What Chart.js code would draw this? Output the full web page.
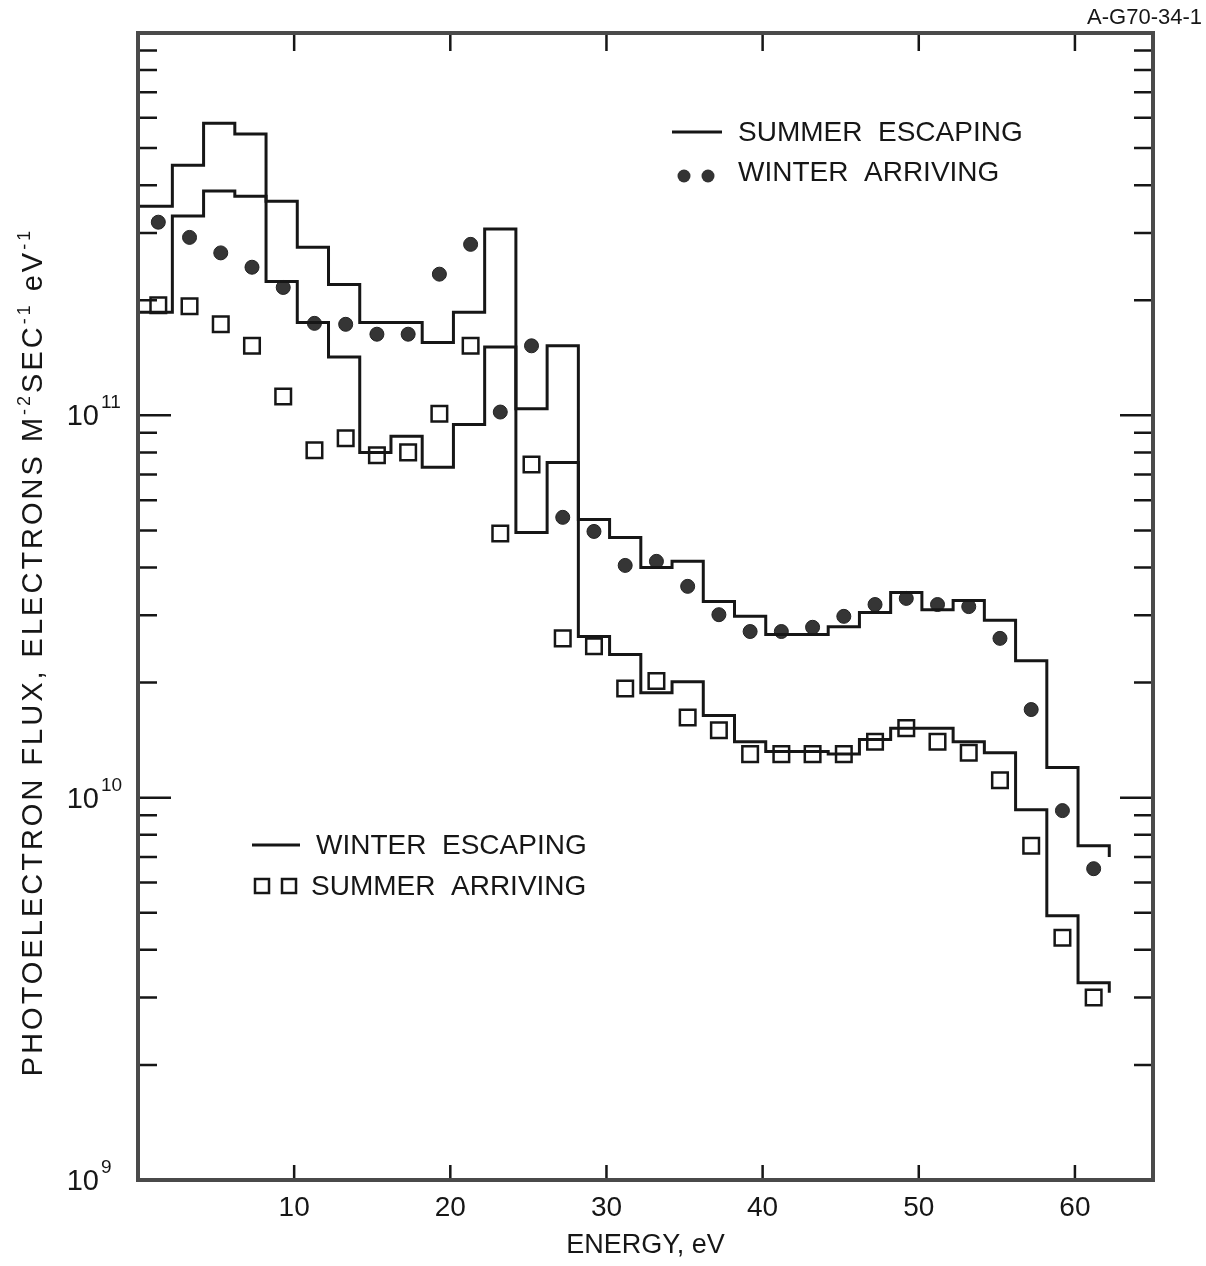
<!DOCTYPE html>
<html>
<head>
<meta charset="utf-8">
<script src="https://cdn.jsdelivr.net/npm/chart.js@4.4.1/dist/chart.umd.min.js"></script>
<style>
  body { margin: 0; background: #fff; }
  #wrap { width: 1206px; height: 1266px; position: relative; }
</style>
</head>
<body>
<div id="wrap"><canvas id="chart"></canvas></div>
<script>
// energy bin edges (eV) of the escaping spectra
const binEdges = [0, 2.2, 4.2, 6.2, 8.2, 10.2, 12.2, 14.2, 16.2, 18.2, 20.2, 22.2, 24.2, 26.2, 28.2,
  30.2, 32.2, 34.2, 36.2, 38.2, 40.2, 42.2, 44.2, 46.2, 48.2, 50.2, 52.2, 54.2, 56.2, 58.2, 60.2, 62.2];

// flux per bin, electrons m^-2 s^-1 eV^-1
const summerEscaping = [3.52e11, 4.51e11, 5.81e11, 5.44e11, 3.63e11, 2.75e11, 2.20e11, 1.75e11,
  1.75e11, 1.55e11, 1.86e11, 3.07e11, 1.04e11, 1.52e11, 5.34e10, 4.79e10, 4.00e10, 4.15e10,
  3.26e10, 2.98e10, 2.67e10, 2.67e10, 2.80e10, 3.05e10, 3.44e10, 3.10e10, 3.28e10, 2.91e10,
  2.28e10, 1.20e10, 7.49e9];
const winterEscaping = [1.86e11, 3.32e11, 3.86e11, 3.74e11, 2.24e11, 1.75e11, 1.42e11, 8.00e10,
  8.81e10, 7.31e10, 9.47e10, 1.51e11, 4.94e10, 7.53e10, 2.64e10, 2.37e10, 1.88e10, 2.01e10,
  1.64e10, 1.40e10, 1.32e10, 1.32e10, 1.30e10, 1.42e10, 1.52e10, 1.52e10, 1.40e10, 1.31e10,
  9.30e9, 4.91e9, 3.28e9];
// short drop closing each histogram at the last edge
const summerEscapingEnd = 7.0e9;
const winterEscapingEnd = 3.09e9;

// arriving fluxes at bin centres
const pointEnergies = [1.3, 3.3, 5.3, 7.3, 9.3, 11.3, 13.3, 15.3, 17.3, 19.3, 21.3, 23.2, 25.2, 27.2,
  29.2, 31.2, 33.2, 35.2, 37.2, 39.2, 41.2, 43.2, 45.2, 47.2, 49.2, 51.2, 53.2, 55.2, 57.2, 59.2, 61.2];
const winterArriving = [3.20e11, 2.92e11, 2.66e11, 2.44e11, 2.16e11, 1.74e11, 1.73e11, 1.63e11,
  1.63e11, 2.34e11, 2.80e11, 1.02e11, 1.52e11, 5.41e10, 4.97e10, 4.05e10, 4.15e10, 3.57e10,
  3.01e10, 2.72e10, 2.72e10, 2.79e10, 2.98e10, 3.20e10, 3.32e10, 3.20e10, 3.16e10, 2.61e10,
  1.70e10, 9.25e9, 6.52e9];
const summerArriving = [1.94e11, 1.93e11, 1.73e11, 1.52e11, 1.12e11, 8.10e10, 8.71e10, 7.86e10,
  8.00e10, 1.01e11, 1.52e11, 4.91e10, 7.44e10, 2.61e10, 2.49e10, 1.93e10, 2.02e10, 1.62e10,
  1.50e10, 1.30e10, 1.30e10, 1.30e10, 1.30e10, 1.40e10, 1.52e10, 1.40e10, 1.31e10, 1.11e10,
  7.49e9, 4.30e9, 3.00e9];

const xTicks = [10, 20, 30, 40, 50, 60];
const yDecades = [1e9, 1e10, 1e11];
const yExponents = ['9', '10', '11'];

const FONT = '"Liberation Sans", Arial, sans-serif';
const INK = '#161616';

function stepPoints(vals, endVal) {
  const pts = binEdges.map((e, i) => ({ x: e, y: vals[Math.min(i, vals.length - 1)] }));
  pts.push({ x: binEdges[binEdges.length - 1], y: endVal });
  return pts;
}

function pointsAt(vals) {
  return pointEnergies.map((e, i) => ({ x: e, y: vals[i] }));
}

// text with raised small parts, drawn left to right from x
function drawParts(ctx, parts, x, y, size, spacing) {
  let cx = x;
  parts.forEach(p => {
    const s = p.sup ? size * 0.62 : size;
    ctx.font = s + 'px ' + FONT;
    ctx.letterSpacing = spacing + 'px';
    ctx.fillText(p.t, cx, p.sup ? y - size * 0.42 : y);
    cx += ctx.measureText(p.t).width;
  });
  return cx - x;
}
function partsWidth(ctx, parts, size, spacing) {
  let w = 0;
  parts.forEach(p => {
    const s = p.sup ? size * 0.62 : size;
    ctx.font = s + 'px ' + FONT;
    ctx.letterSpacing = spacing + 'px';
    w += ctx.measureText(p.t).width;
  });
  return w;
}

const axesFrame = {
  id: 'axesFrame',
  afterDatasetsDraw(chart) {
    const { ctx, chartArea: a, scales: { x, y } } = chart;
    ctx.save();
    ctx.strokeStyle = INK;
    ctx.lineWidth = 2.5;
    ctx.beginPath();
    // energy ticks pointing inward, bottom and top
    xTicks.forEach(v => {
      const px = x.getPixelForValue(v);
      ctx.moveTo(px, a.bottom); ctx.lineTo(px, a.bottom - 15);
      ctx.moveTo(px, a.top); ctx.lineTo(px, a.top + 18);
    });
    // log ticks on both sides
    yDecades.forEach(d => {
      for (let m = 1; m <= 9; m++) {
        const v = d * m;
        if (v <= y.min) continue;
        const py = y.getPixelForValue(v);
        const len = m === 1 ? 33 : 19;
        ctx.moveTo(a.left, py); ctx.lineTo(a.left + len, py);
        ctx.moveTo(a.right, py); ctx.lineTo(a.right - len, py);
      }
    });
    ctx.stroke();

    ctx.strokeStyle = '#4a4a4a';
    ctx.lineWidth = 4;
    ctx.strokeRect(a.left, a.top, a.right - a.left, a.bottom - a.top);
    ctx.restore();
  },
  afterDraw(chart) {
    const { ctx, scales: { y } } = chart;
    ctx.save();
    ctx.fillStyle = INK;
    ctx.textBaseline = 'alphabetic';

    // decade labels 10^n
    yDecades.forEach((d, i) => {
      const py = y.getPixelForValue(d);
      ctx.font = '29px ' + FONT;
      ctx.textAlign = 'right';
      ctx.fillText('10', 99, py + 10);
      ctx.font = '19px ' + FONT;
      ctx.textAlign = 'left';
      ctx.fillText(yExponents[i], 101, py - 7);
    });

    // vertical axis title
    const title = [
      { t: 'PHOTOELECTRON FLUX, ELECTRONS M' }, { t: '-2', sup: true },
      { t: 'SEC' }, { t: '-1', sup: true }, { t: ' eV' }, { t: '-1', sup: true }
    ];
    ctx.save();
    ctx.translate(42, 652);
    ctx.rotate(-Math.PI / 2);
    ctx.textAlign = 'left';
    const tw = partsWidth(ctx, title, 29, 3);
    drawParts(ctx, title, -tw / 2, 0, 29, 3);
    ctx.restore();
    ctx.letterSpacing = '0px';

    // figure number
    ctx.font = '22px ' + FONT;
    ctx.textAlign = 'right';
    ctx.fillText('A-G70-34-1', 1202, 24);

    // legends
    ctx.font = '28px ' + FONT;
    ctx.textAlign = 'left';
    ctx.textBaseline = 'middle';
    ctx.fillText('SUMMER  ESCAPING', 738, 133);
    ctx.fillText('WINTER  ARRIVING', 738, 173);
    ctx.fillText('WINTER  ESCAPING', 316, 846);
    ctx.fillText('SUMMER  ARRIVING', 311, 887);

    ctx.strokeStyle = INK;
    ctx.lineWidth = 3;
    ctx.beginPath();
    ctx.moveTo(672, 132); ctx.lineTo(722, 132);
    ctx.moveTo(252, 845); ctx.lineTo(300, 845);
    ctx.stroke();

    ctx.fillStyle = '#333';
    [684, 708].forEach(cx => {
      ctx.beginPath(); ctx.arc(cx, 176, 6.5, 0, Math.PI * 2); ctx.fill();
    });
    ctx.lineWidth = 2.5;
    [262, 289].forEach(cx => {
      ctx.strokeRect(cx - 7, 879, 14, 14);
    });
    ctx.restore();
  }
};

new Chart(document.getElementById('chart'), {
  type: 'line',
  data: {
    datasets: [
      {
        label: 'SUMMER ESCAPING',
        data: stepPoints(summerEscaping, summerEscapingEnd),
        stepped: true,
        borderColor: INK,
        borderWidth: 3,
        pointRadius: 0,
        fill: false
      },
      {
        label: 'WINTER ESCAPING',
        data: stepPoints(winterEscaping, winterEscapingEnd),
        stepped: true,
        borderColor: INK,
        borderWidth: 3,
        pointRadius: 0,
        fill: false
      },
      {
        label: 'WINTER ARRIVING',
        data: pointsAt(winterArriving),
        showLine: false,
        pointStyle: 'circle',
        pointRadius: 7,
        pointBackgroundColor: '#353535',
        pointBorderColor: '#222',
        pointBorderWidth: 1
      },
      {
        label: 'SUMMER ARRIVING',
        data: pointsAt(summerArriving),
        showLine: false,
        pointStyle: 'rect',
        pointRadius: 11,
        pointBackgroundColor: '#fff',
        pointBorderColor: INK,
        pointBorderWidth: 2.5
      }
    ]
  },
  options: {
    responsive: true,
    maintainAspectRatio: false,
    animation: false,
    layout: { padding: { top: 33, right: 53, left: 0, bottom: 0 } },
    plugins: { legend: { display: false }, tooltip: { enabled: false } },
    scales: {
      x: {
        type: 'linear',
        min: 0,
        max: 65,
        afterBuildTicks: s => { s.ticks = xTicks.map(v => ({ value: v })); },
        afterFit: s => { s.height = 86; },
        grid: { display: false, drawTicks: false },
        border: { display: false },
        ticks: { font: { family: FONT, size: 28 }, color: INK, padding: 11, maxRotation: 0 },
        title: {
          display: true,
          text: 'ENERGY, eV',
          font: { family: FONT, size: 27 },
          color: INK,
          padding: { top: 0, bottom: 4 }
        }
      },
      y: {
        type: 'logarithmic',
        min: 1e9,
        max: 1e12,
        afterFit: s => { s.width = 138; },
        grid: { display: false, drawTicks: false },
        border: { display: false },
        ticks: { display: false }
      }
    }
  },
  plugins: [axesFrame]
});
</script>
</body>
</html>
